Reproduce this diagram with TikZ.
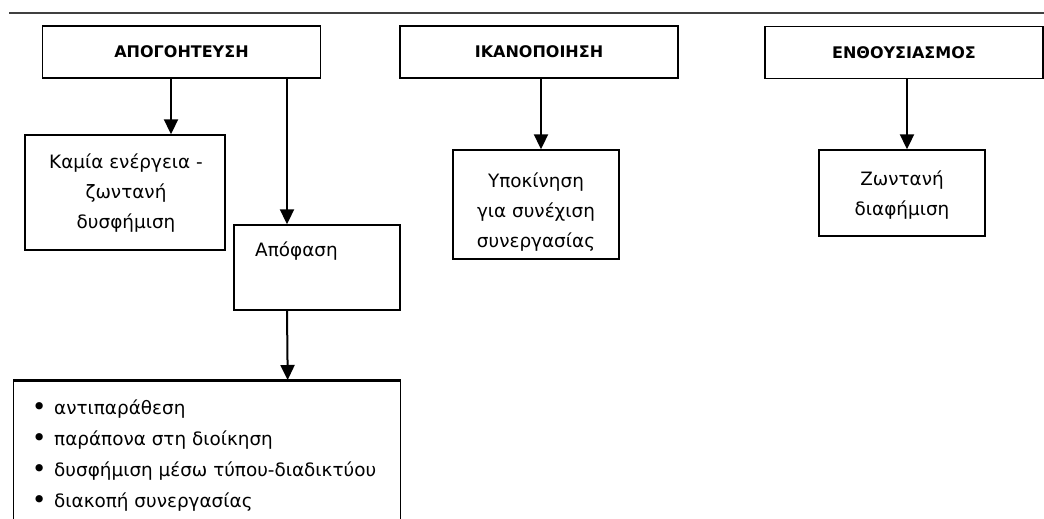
\documentclass[tikz,border=0pt]{standalone}
\usepackage{fontspec}
\setmainfont{DejaVu Sans}
\usetikzlibrary{arrows.meta}
\newcommand\bulitem{\makebox[12pt][c]{\raisebox{-1.5pt}{\fontsize{25}{25}\selectfont •}}\hspace{9pt}}
\begin{document}
\begin{tikzpicture}[x=1pt,y=-1pt,
  box/.style={draw=black, line width=1.4pt, inner sep=0pt},
  hdr/.style={box, minimum width=278pt, minimum height=52pt, font=\fontsize{16}{19}\selectfont\bfseries},
  txt/.style={align=center, inner sep=0pt, font=\fontsize{18.4}{30}\selectfont},
  arr/.style={line width=2pt, -{Triangle[width=14pt,length=15pt]}}]
\useasboundingbox (0,0) rectangle (1044,519);
\clip (0,0) rectangle (1044,519);
% top rule
\draw[line width=1.6pt, black!75] (9,13) -- (1044,13);
% header boxes
\node[hdr] (apo) at (181.5,52) {ΑΠΟΓΟΗΤΕΥΣΗ};
\node[hdr] (ika) at (539,52) {ΙΚΑΝΟΠΟΙΗΣΗ};
\node[hdr] (enth) at (904,52.5) {ΕΝΘΟΥΣΙΑΣΜΟΣ};
% second level boxes
\node[box, minimum width=200pt, minimum height=115pt] (kam) at (125,192.5) {};
\node[txt] (kamt) at (126,193) {Καμία ενέργεια -\\ζωντανή\\δυσφήμιση};
\node[box, minimum width=166pt, minimum height=85pt] (apf) at (317,267.5) {};
\node[txt, anchor=west] (apft) at (255,251) {Απόφαση};
\node[box, minimum width=166pt, minimum height=109pt] (ypo) at (536,204.5) {};
\node[txt] (ypot) at (536,212) {Υποκίνηση\\για συνέχιση\\συνεργασίας};
\node[box, minimum width=166pt, minimum height=86pt] (zon) at (902,193) {};
\node[txt] (zont) at (902,195) {Ζωντανή\\διαφήμιση};
% bottom list box
\node[box, minimum width=387pt, minimum height=160pt, anchor=north west] (lst) at (13,380) {};
\draw[line width=3pt] (lst.north west) -- (lst.north east);
\node[txt, align=left, anchor=west, font=\fontsize{18.4}{31}\selectfont] (lstt) at (33,455.5)
  {\bulitem αντιπαράθεση\\\bulitem παράπονα στη διοίκηση\\\bulitem δυσφήμιση μέσω τύπου-διαδικτύου\\\bulitem διακοπή συνεργασίας};
% connectors
\draw[arr] ([xshift=-10.5pt]apo.south) -- ([xshift=46pt]kam.north);
\draw[arr] ([xshift=105.5pt]apo.south) -- ([xshift=-30pt]apf.north);
\draw[arr] ([xshift=-30pt]apf.south) -- ([xshift=80.5pt]lst.north);
\draw[arr] ([xshift=2pt]ika.south) -- ([xshift=2pt]ika.south |- ypo.north);
\draw[arr] ([xshift=3pt]enth.south) -- ([xshift=3pt]enth.south |- zon.north);
\end{tikzpicture}
\end{document}
